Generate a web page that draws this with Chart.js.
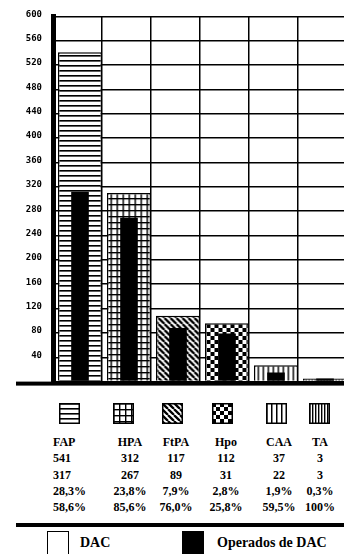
<!DOCTYPE html>
<html lang="es">
<head>
<meta charset="utf-8">
<title>DAC y operados de DAC</title>
<script src="https://cdn.jsdelivr.net/npm/chart.js@4.4.0/dist/chart.umd.min.js"></script>
<style>
  html, body { margin: 0; padding: 0; background: #fff; }
  body { width: 344px; height: 554px; overflow: hidden; position: relative; }
  /* el gráfico original está recortado por la derecha */
  #zona-grafico { position: absolute; left: 0; top: 0; width: 344px; height: 398px; overflow: hidden; }
  .muestra { position: absolute; top: 403px; width: 21px; height: 21px; }
  .col { position: absolute; top: 434px; font: bold 12px "Liberation Serif", serif; line-height: 16.3px; color: #000; white-space: nowrap; }
  .separador { position: absolute; left: 16px; top: 523px; width: 328px; height: 4px; background: #000; }
  .caja { position: absolute; top: 531px; width: 22px; height: 23px; box-sizing: border-box; border: 1px solid #000; border-bottom: none; }
  .leyenda { position: absolute; top: 535px; font: bold 14px "Liberation Serif", serif; line-height: 16px; color: #000; white-space: nowrap; }
</style>
</head>
<body>
<div id="zona-grafico"><canvas id="grafico" width="350" height="398"></canvas></div>
<div id="tabla"></div>
<div class="separador"></div>
<div class="caja" style="left:47px; background:#fff;"></div>
<div class="leyenda" style="left:80px;">DAC</div>
<div class="caja" style="left:182px; background:#000;"></div>
<div class="leyenda" style="left:217px;">Operados de DAC</div>

<script>
// Datos
const categorias = ['FAP', 'HPA', 'FtPA', 'Hpo', 'CAA', 'TA'];
const valoresDAC = [541, 310, 108, 96, 27, 5];
const valoresOperados = [312, 269, 88, 79, 15, 5];
const ejeYMax = 600;
const ejeYPaso = 40;

// Filas de la tabla bajo el gráfico
const filaDAC = ['541', '312', '117', '112', '37', '3'];
const filaOperados = ['317', '267', '89', '31', '22', '3'];
const filaPctDAC = ['28,3%', '23,8%', '7,9%', '2,8%', '1,9%', '0,3%'];
const filaPctOperados = ['58,6%', '85,6%', '76,0%', '25,8%', '59,5%', '100%'];

// Tramas en blanco y negro para cada categoría
function crearTrama(tam, dibujar) {
    const c = document.createElement('canvas');
    c.width = tam; c.height = tam;
    const g = c.getContext('2d');
    g.fillStyle = '#fff';
    g.fillRect(0, 0, tam, tam);
    g.fillStyle = '#000';
    g.strokeStyle = '#000';
    dibujar(g, tam);
    return document.createElement('canvas').getContext('2d').createPattern(c, 'repeat');
}

const tramas = [
    crearTrama(5, (g) => g.fillRect(0, 0, 5, 1.6)),                       // líneas horizontales
    crearTrama(6, (g) => { g.fillRect(0, 0, 6, 1.4); g.fillRect(0, 0, 1.4, 6); }), // cuadrícula
    crearTrama(6, (g, s) => {                                              // diagonales
        g.lineWidth = 2.3;
        g.beginPath();
        for (const k of [-s, 0, s]) { g.moveTo(k, 0); g.lineTo(k + s, s); }
        g.stroke();
    }),
    crearTrama(8, (g) => { g.fillRect(0, 0, 4, 4); g.fillRect(4, 4, 4, 4); }), // damero
    crearTrama(5, (g) => g.fillRect(0, 0, 1.5, 5)),                       // verticales
    crearTrama(3, (g) => g.fillRect(0, 0, 1.4, 3))                        // verticales densas
];

// Desplaza las barras un poco a la derecha, como en el original
const desplazarBarras = {
    id: 'desplazarBarras',
    beforeDatasetsDraw(chart) { chart.ctx.save(); chart.ctx.translate(2.5, 0); },
    afterDatasetsDraw(chart) { chart.ctx.restore(); }
};

// Línea base gruesa que sobresale a la izquierda
const lineaBase = {
    id: 'lineaBase',
    afterDraw(chart) {
        const ctx = chart.ctx;
        ctx.save();
        ctx.fillStyle = '#000';
        ctx.fillRect(16, chart.chartArea.bottom, chart.width, 4);
        ctx.restore();
    }
};

new Chart(document.getElementById('grafico'), {
    type: 'bar',
    data: {
        labels: categorias,
        datasets: [
            {
                label: 'DAC',
                data: valoresDAC,
                backgroundColor: tramas,
                borderColor: '#000',
                borderWidth: 1.5,
                barPercentage: 0.9,
                categoryPercentage: 1,
                grouped: false,
                order: 2
            },
            {
                label: 'Operados de DAC',
                data: valoresOperados,
                backgroundColor: '#000',
                borderWidth: 0,
                barPercentage: 0.36,
                categoryPercentage: 1,
                grouped: false,
                order: 1
            }
        ]
    },
    options: {
        responsive: false,
        animation: false,
        layout: { padding: { top: 16, right: 3, bottom: 1.6, left: 0 } },
        plugins: { legend: { display: false }, tooltip: { enabled: false } },
        scales: {
            x: {
                ticks: { display: false },
                grid: { color: '#000', lineWidth: 1.5, drawTicks: false, offset: true },
                border: { display: false },
                afterFit(scale) { scale.height = 0; }
            },
            y: {
                min: 0,
                max: ejeYMax,
                ticks: {
                    stepSize: ejeYPaso,
                    padding: 11,
                    labelOffset: -2,
                    color: '#000',
                    font: { family: 'DejaVu Sans Mono', size: 9, weight: 'bold' },
                    callback: (v) => v === 0 ? '' : v
                },
                grid: { color: '#000', lineWidth: 1.5, drawTicks: false },
                border: { display: true, color: '#000', width: 5 },
                afterFit(scale) { scale.width = 53; }
            }
        }
    },
    plugins: [desplazarBarras, lineaBase]
});

// Muestras de trama
const posMuestras = [59, 113, 162, 212, 266, 309];
posMuestras.forEach((x, i) => {
    const c = document.createElement('canvas');
    c.width = 21; c.height = 21;
    c.className = 'muestra';
    c.style.left = x + 'px';
    const g = c.getContext('2d');
    g.fillStyle = tramas[i];
    g.fillRect(0, 0, 21, 21);
    g.strokeStyle = '#000';
    g.lineWidth = 1.5;
    g.strokeRect(0.75, 0.75, 19.5, 19.5);
    document.body.appendChild(c);
});

// Tabla de valores por columna
const centrosCol = [53, 130, 176, 226, 279, 320];
const tabla = document.getElementById('tabla');
categorias.forEach((cat, i) => {
    const div = document.createElement('div');
    div.className = 'col';
    if (i === 0) {
        div.style.left = centrosCol[i] + 'px';
        div.style.textAlign = 'left';
    } else {
        div.style.left = (centrosCol[i] - 30) + 'px';
        div.style.width = '60px';
        div.style.textAlign = 'center';
    }
    div.innerHTML = [cat, filaDAC[i], filaOperados[i], filaPctDAC[i], filaPctOperados[i]].join('<br>');
    tabla.appendChild(div);
});
</script>
</body>
</html>
